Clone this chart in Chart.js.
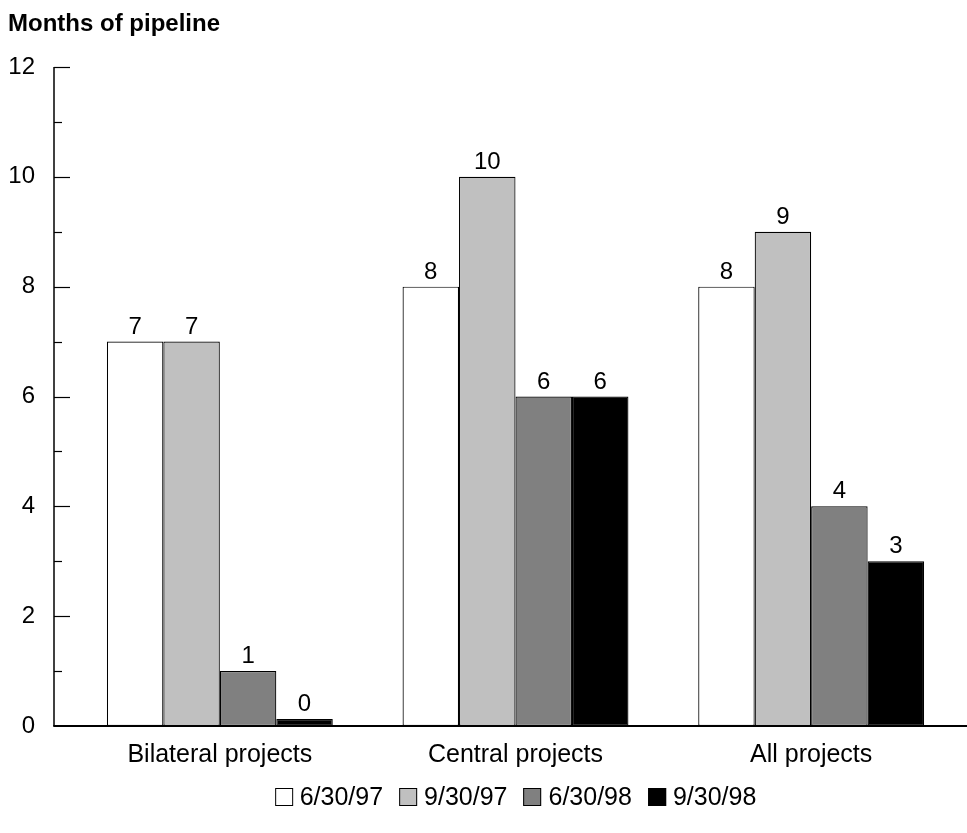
<!DOCTYPE html>
<html><head><meta charset="utf-8">
<script src="https://cdn.jsdelivr.net/npm/chart.js@4.4.1/dist/chart.umd.min.js"></script>
<style>
html,body{margin:0;padding:0;background:#fff;}
#wrap{position:relative;width:967px;height:833px;overflow:hidden;}
#legend{position:absolute;top:782px;display:flex;align-items:center;white-space:nowrap;
  font-family:"Liberation Sans",Arial,sans-serif;font-size:25px;color:#000;transform:translateX(-50%);}
#legend .item{display:flex;align-items:center;margin:0 8px;}
#legend .box{width:18px;height:18px;border:1.5px solid #000;margin-right:7px;box-sizing:border-box;}
</style></head>
<body><div id="wrap"><canvas id="c" width="967" height="833"></canvas><div id="legend"></div></div>
<script>
const titleText = 'Months of pipeline';
const categories = ['Bilateral projects', 'Central projects', 'All projects'];
const seriesNames = ['6/30/97', '9/30/97', '6/30/98', '9/30/98'];
const s_6_30_97 = [7, 8, 8];
const s_9_30_97 = [7, 10, 9];
const s_6_30_98 = [1, 6, 4];
const s_9_30_98 = [0, 6, 3];
const seriesColors = ['#ffffff', '#c0c0c0', '#808080', '#000000'];
const yTicks = [0, 2, 4, 6, 8, 10, 12];

const seriesValues = [s_6_30_97, s_9_30_97, s_6_30_98, s_9_30_98];
const FONT = '"Liberation Sans", Arial, sans-serif';

const axisPlugin = {
  id: 'axisLines',
  afterDatasetsDraw(chart) {
    const {ctx, chartArea, scales: {y}} = chart;
    const ax = chartArea.left - 18;
    const yMin = yTicks[0], yMax = yTicks[yTicks.length - 1];
    ctx.save();
    ctx.strokeStyle = '#000';
    ctx.lineWidth = 1.5;
    ctx.beginPath();
    ctx.moveTo(ax, y.getPixelForValue(yMin));
    ctx.lineTo(ax, y.getPixelForValue(yMax));
    ctx.stroke();
    ctx.lineWidth = 1.2;
    for (let v = yMin + 1; v <= yMax; v++) {
      const py = Math.round(y.getPixelForValue(v)) + 0.5;
      const len = (v % 2 === 0) ? 16 : 8;
      ctx.beginPath();
      ctx.moveTo(ax, py);
      ctx.lineTo(ax + len, py);
      ctx.stroke();
    }
    ctx.lineWidth = 2;
    const y0 = y.getPixelForValue(yMin);
    ctx.beginPath();
    ctx.moveTo(ax - 0.75, y0);
    ctx.lineTo(chart.width, y0);
    ctx.stroke();
    ctx.restore();
  }
};

const valueLabels = {
  id: 'valueLabels',
  afterDatasetsDraw(chart) {
    const {ctx} = chart;
    ctx.save();
    ctx.fillStyle = '#000';
    ctx.font = '24px ' + FONT;
    ctx.textAlign = 'center';
    ctx.textBaseline = 'alphabetic';
    chart.data.datasets.forEach((ds, i) => {
      chart.getDatasetMeta(i).data.forEach((bar, j) => {
        ctx.fillText(String(seriesValues[i][j]), bar.x, bar.y - 8);
      });
    });
    ctx.restore();
  }
};

const legendPlacer = {
  id: 'legendPlacer',
  afterRender(chart) {
    const el = document.getElementById('legend');
    el.style.left = ((chart.chartArea.left + chart.chartArea.right) / 2) + 'px';
  }
};

const chart = new Chart(document.getElementById('c'), {
  type: 'bar',
  data: {
    labels: categories,
    datasets: seriesNames.map((name, i) => ({
      label: name,
      data: seriesValues[i],
      backgroundColor: seriesColors[i],
      borderColor: '#000',
      borderWidth: 1.2,
      borderSkipped: false,
      categoryPercentage: 0.764,
      barPercentage: 1.0,
      minBarLength: 7
    }))
  },
  options: {
    responsive: false,
    animation: false,
    devicePixelRatio: 1,
    layout: {padding: {left: 8, right: 8, top: 0, bottom: 49}},
    plugins: {
      legend: {display: false},
      tooltip: {enabled: false},
      title: {
        display: true, text: titleText, align: 'start', color: '#000',
        font: {family: FONT, size: 24, weight: 'bold'},
        padding: {top: 10, bottom: 28.2}
      }
    },
    scales: {
      x: {
        grid: {display: false, drawTicks: false},
        border: {display: false},
        ticks: {color: '#000', font: {family: FONT, size: 25}, padding: 14, maxRotation: 0}
      },
      y: {
        min: yTicks[0], max: yTicks[yTicks.length - 1],
        afterFit(scale) { scale.width = 64; },
        afterBuildTicks(scale) { scale.ticks = yTicks.map(v => ({value: v})); },
        grid: {display: false, drawTicks: false},
        border: {display: false},
        ticks: {color: '#000', font: {family: FONT, size: 24}, padding: 37}
      }
    }
  },
  plugins: [axisPlugin, valueLabels, legendPlacer]
});

const legendEl = document.getElementById('legend');
seriesNames.forEach((name, i) => {
  const item = document.createElement('div');
  item.className = 'item';
  const box = document.createElement('span');
  box.className = 'box';
  box.style.background = seriesColors[i];
  const txt = document.createElement('span');
  txt.textContent = name;
  item.appendChild(box);
  item.appendChild(txt);
  legendEl.appendChild(item);
});
legendEl.style.left = ((chart.chartArea.left + chart.chartArea.right) / 2) + 'px';
</script>
</body></html>
